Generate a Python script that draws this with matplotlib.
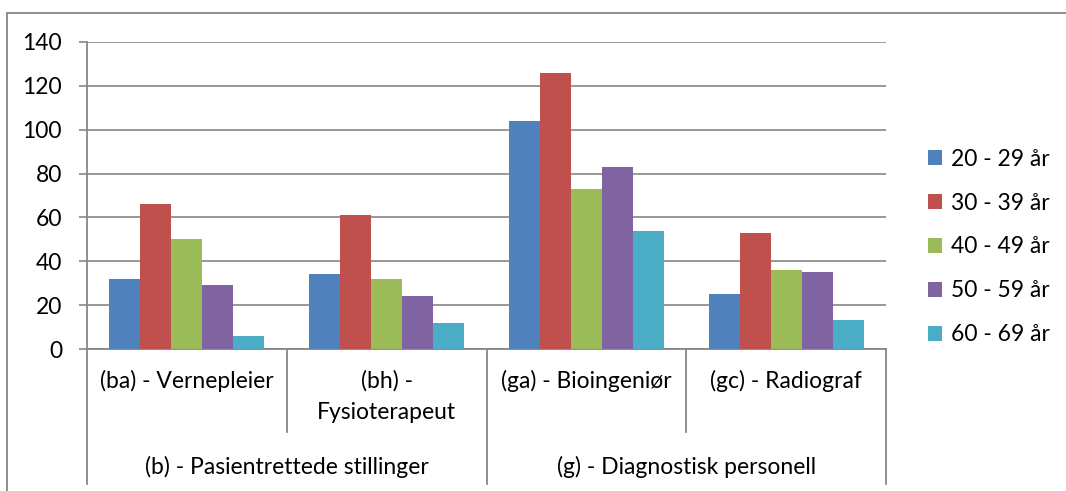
import numpy as np
import matplotlib
matplotlib.use("Agg")
import matplotlib.pyplot as plt
from matplotlib.patches import Rectangle

plt.rcParams['font.family'] = ['Lato', 'DejaVu Sans']

# categories (two levels)
jobs = ['(ba) - Vernepleier', '(bh) -\nFysioterapeut', '(ga) - Bioingeniør', '(gc) - Radiograf']
groups = ['(b) - Pasientrettede stillinger', '(g) - Diagnostisk personell']
ages = ['20 - 29 år', '30 - 39 år', '40 - 49 år', '50 - 59 år', '60 - 69 år']

# counts per age group, one value per job
a20 = [32, 34, 104, 25]
a30 = [66, 61, 126, 53]
a40 = [50, 32, 73, 36]
a50 = [29, 24, 83, 35]
a60 = [6, 12, 54, 13]
series = [a20, a30, a40, a50, a60]

colors = ['#4F81BD', '#C0504D', '#9BBB59', '#8064A2', '#4BACC6']
gridc = '#868686'
fs = 16.5

W, H = 1066, 491
fig = plt.figure(figsize=(W / 100, H / 100), dpi=100)
ax = fig.add_axes([87 / W, 1 - 349 / H, (886 - 87) / W, (349 - 42) / H])

# outer chart frame (cut by the image edge on the right and bottom)
fig.add_artist(Rectangle((7 / W, -0.2), 1.2, 1.2 - 13 / H, transform=fig.transFigure,
                         fill=False, edgecolor=gridc, lw=1.3, clip_on=False))

x = np.arange(len(jobs)) + 0.5
bw = 0.155
for i, (vals, lab) in enumerate(zip(series, ages)):
    ax.bar(x + (i - 2) * bw, vals, bw, color=colors[i], label=lab, zorder=3)

ax.set_xlim(0, 4)
ax.set_ylim(0, 140)
ax.set_yticks(np.arange(0, 141, 20))
ax.set_xticks([])
ax.yaxis.grid(True, color=gridc, lw=1.2, zorder=0)
ax.tick_params(axis='y', length=6, width=1.2, color=gridc, pad=12, labelsize=fs)
for s in ['top', 'right']:
    ax.spines[s].set_visible(False)
for s in ['left', 'bottom']:
    ax.spines[s].set_color(gridc)
    ax.spines[s].set_linewidth(1.3)

# multi-level category axis
tr = ax.get_xaxis_transform()
for xd in [1, 3]:
    ax.plot([xd, xd], [0, -0.27], color=gridc, lw=1.3, transform=tr, clip_on=False)
for xd in [0, 2, 4]:
    ax.plot([xd, xd], [0, -0.44], color=gridc, lw=1.3, transform=tr, clip_on=False)
for xc, lab in zip(x, jobs):
    ax.text(xc, -0.068, lab, transform=tr, ha='center', va='top', fontsize=fs,
            linespacing=1.65)
for xc, lab in zip([1, 3], groups):
    ax.text(xc, -0.385, lab, transform=tr, ha='center', va='center', fontsize=fs)

ax.legend(loc='center left', bbox_to_anchor=(928 / W, 1 - 247 / H), bbox_transform=fig.transFigure,
          frameon=False, fontsize=fs, handlelength=0.62, handleheight=0.62, borderpad=0,
          borderaxespad=0, handletextpad=0.4, labelspacing=1.0)

fig.savefig('out.png', dpi=100)
